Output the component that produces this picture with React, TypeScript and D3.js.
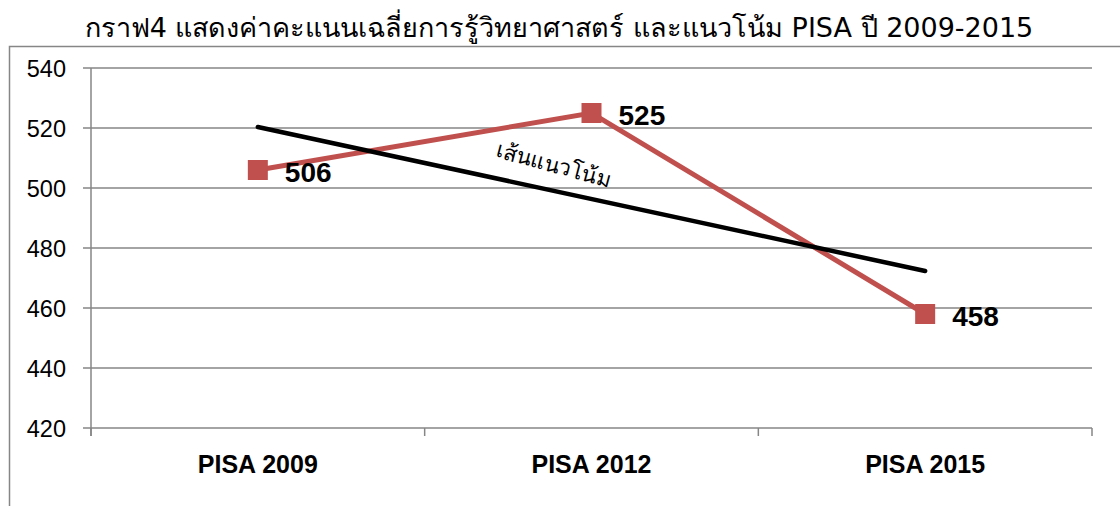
import * as React from "react";
import * as d3 from "d3";

const categories = ["PISA 2009", "PISA 2012", "PISA 2015"];
const scores = [506, 525, 458];
const yTicks = [420, 440, 460, 480, 500, 520, 540];
const title = "กราฟ4 แสดงค่าคะแนนเฉลี่ยการรู้วิทยาศาสตร์ และแนวโน้ม PISA ปี 2009-2015";
const trendLabel = "เส้นแนวโน้ม";

const W = 1120;
const H = 506;
const plot = { left: 91, right: 1092, top: 68, bottom: 428 };
const red = "#C0504D";
const gray = "#868686";

export default function App() {
    const x = d3.scaleBand<string>().domain(categories).range([plot.left, plot.right]);
    const y = d3.scaleLinear().domain([420, 540]).range([plot.bottom, plot.top]);
    const cx = (c: string) => (x(c) || 0) + x.bandwidth() / 2;

    // linear trend (least squares on index 1..n)
    const idx = scores.map((_, i) => i + 1);
    const mx = d3.mean(idx) || 0;
    const my = d3.mean(scores) || 0;
    const slope = d3.sum(idx.map((v, i) => (v - mx) * (scores[i] - my))) / d3.sum(idx.map(v => (v - mx) ** 2));
    const trend = idx.map(v => my + slope * (v - mx));

    const line = d3.line<number>()
        .x((_, i) => cx(categories[i]))
        .y(d => y(d));

    const t0 = [cx(categories[0]), y(trend[0])];
    const t1 = [cx(categories[2]), y(trend[2])];
    const angle = Math.atan2(t1[1] - t0[1], t1[0] - t0[0]) * 180 / Math.PI;

    const font = "'Liberation Sans', Arial, sans-serif";

    return <svg width={W} height={H} style={{ position: "absolute", left: 0, top: 0 }} fontFamily={font}>
        <rect x={0} y={0} width={W} height={H} fill="white" />
        <text x={559} y={37} textAnchor="middle" fontSize={27} fill="#000" fontFamily="Tahoma, 'DejaVu Sans', sans-serif">{title}</text>
        {/* chart frame */}
        <path d={`M9.5,${H + 2} V46.5 H${W + 2}`} fill="none" stroke={gray} strokeWidth={1.5} />

        {yTicks.map(t => <g key={t}>
            <line x1={plot.left - 8} x2={plot.right} y1={y(t)} y2={y(t)} stroke={gray} strokeWidth={1.5} />
            <text x={plot.left - 25} y={y(t) + 8.5} textAnchor="end" fontSize={23.5} fill="#000">{t}</text>
        </g>)}
        <line x1={plot.left} x2={plot.left} y1={plot.top} y2={plot.bottom + 8} stroke={gray} strokeWidth={1.5} />
        {d3.range(categories.length + 1).map(i => {
            const xx = plot.left + i * x.bandwidth();
            return <line key={i} x1={xx} x2={xx} y1={plot.bottom} y2={plot.bottom + 8} stroke={gray} strokeWidth={1.5} />;
        })}
        {categories.map(c => <text key={c} x={cx(c)} y={473} textAnchor="middle" fontSize={25} fontWeight="bold" fill="#000">{c}</text>)}

        <path d={line(scores) || ""} fill="none" stroke={red} strokeWidth={5} />
        {scores.map((s, i) => <rect key={i} x={cx(categories[i]) - 10} y={y(s) - 10} width={20} height={20} fill={red} />)}

        <line x1={t0[0]} y1={t0[1]} x2={t1[0]} y2={t1[1]} stroke="#000" strokeWidth={4.5} strokeLinecap="round" />

        {scores.map((s, i) => <text key={i} x={cx(categories[i]) + 27} y={y(s) + 12} fontSize={28} fontWeight="bold" fill="#000">{s}</text>)}

        <text transform={`translate(552,172) rotate(${angle + 3})`} textAnchor="middle" fontSize={22} fill="#000" fontFamily="Tahoma, 'DejaVu Sans', sans-serif">{trendLabel}</text>
    </svg>;
}
